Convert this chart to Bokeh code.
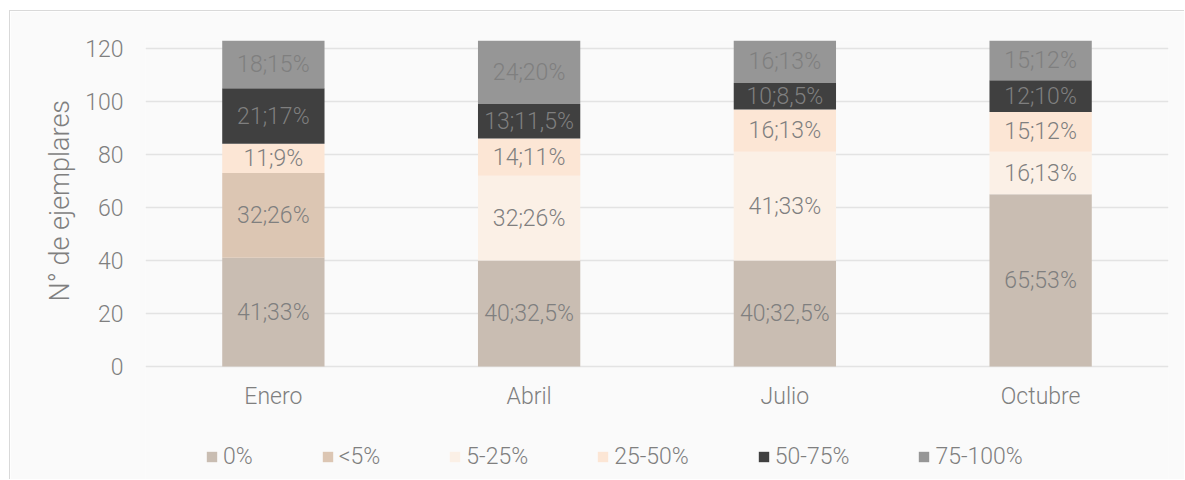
from bokeh.plotting import figure
from bokeh.models import ColumnDataSource, Range1d, Legend, LegendItem, FixedTicker, Title
from bokeh.core.properties import value
from bokeh.embed import file_html
from bokeh.resources import INLINE

months = ["Enero", "Abril", "Julio", "Octubre"]
series = ["0%", "<5%", "5-25%", "25-50%", "50-75%", "75-100%"]
s0 = [41, 40, 40, 65]
s5 = [32, 0, 0, 0]
s5_25 = [0, 32, 41, 16]
s25_50 = [11, 14, 16, 15]
s50_75 = [21, 13, 10, 12]
s75_100 = [18, 24, 16, 15]
pct0 = ["33%", "32,5%", "32,5%", "53%"]
pct5 = ["26%", "", "", ""]
pct5_25 = ["", "26%", "33%", "13%"]
pct25_50 = ["9%", "11%", "13%", "12%"]
pct50_75 = ["17%", "11,5%", "8,5%", "10%"]
pct75_100 = ["15%", "20%", "13%", "12%"]
colors = ["#c9bdb2", "#dcc6b3", "#fbf0e6", "#fce6d5", "#404040", "#969696"]
yticks = [0, 20, 40, 60, 80, 100, 120]
y_label = "N° de ejemplares"

FONT = "Roboto Light"
GRAY = "#7f7f7f"

vals = [s0, s5, s5_25, s25_50, s50_75, s75_100]
pcts = [pct0, pct5, pct5_25, pct25_50, pct50_75, pct75_100]
data = {"month": months}
for name, v in zip(series, vals):
    data[name] = v
src = ColumnDataSource(data)

# lower part of the y range holds category labels and legend (below the 0 line)
p = figure(x_range=months, y_range=Range1d(-43, 123), width=1175, height=469,
           output_backend="svg", toolbar_location=None,
           min_border_left=135, min_border_right=17, min_border_top=29, min_border_bottom=0)
p.styles = {"border-left": "1px solid #d9d9d9", "border-top": "1px solid #d9d9d9",
            "margin-left": "9px", "margin-top": "10px"}
p.background_fill_color = "#fafafa"
p.border_fill_color = "#fafafa"
p.outline_line_color = None

renderers = p.vbar_stack(series, x="month", width=0.4, color=colors, source=src,
                         line_color=None)

# data labels
lx, ly, lt = [], [], []
base = [0] * len(months)
for v, pc in zip(vals, pcts):
    for i, m in enumerate(months):
        if v[i] > 0:
            lx.append(m)
            ly.append(base[i] + v[i] / 2)
            lt.append(f"{v[i]};{pc[i]}")
        base[i] += v[i]
p.text(x=lx, y=ly, text=lt, text_align="center", text_baseline="middle",
       text_font=value(FONT), text_font_size="23px", text_color=GRAY)

p.xgrid.grid_line_color = None
p.ygrid.grid_line_color = "#e3e3e3"
p.ygrid.grid_line_width = 1.5
p.yaxis.ticker = FixedTicker(ticks=yticks)
p.xaxis.fixed_location = 0

for ax in (p.xaxis[0], p.yaxis[0]):
    ax.axis_line_color = None
    ax.major_tick_line_color = None
    ax.minor_tick_line_color = None
    ax.major_tick_in = 0
    ax.major_tick_out = 0
    ax.major_label_text_font = FONT
    ax.major_label_text_font_size = "23px"
    ax.major_label_text_color = GRAY
p.xaxis.major_label_standoff = 16
p.yaxis.major_label_standoff = 22

ytitle = Title(text=y_label, align="left", offset=179, standoff=14,
               text_font=FONT, text_font_size="27px", text_font_style="normal",
               text_color=GRAY)
p.add_layout(ytitle, "left")

items = [LegendItem(label=s, renderers=[r]) for s, r in zip(series, renderers)]
legend = Legend(items=items, orientation="horizontal", location=(60, 10),
                glyph_width=13, glyph_height=13, label_standoff=5, spacing=68,
                padding=0, margin=0, background_fill_alpha=0, border_line_color=None,
                label_text_font=FONT, label_text_font_size="23px", label_text_color=GRAY)
p.add_layout(legend, "center")

open("out.html", "w").write(file_html(p, INLINE))
